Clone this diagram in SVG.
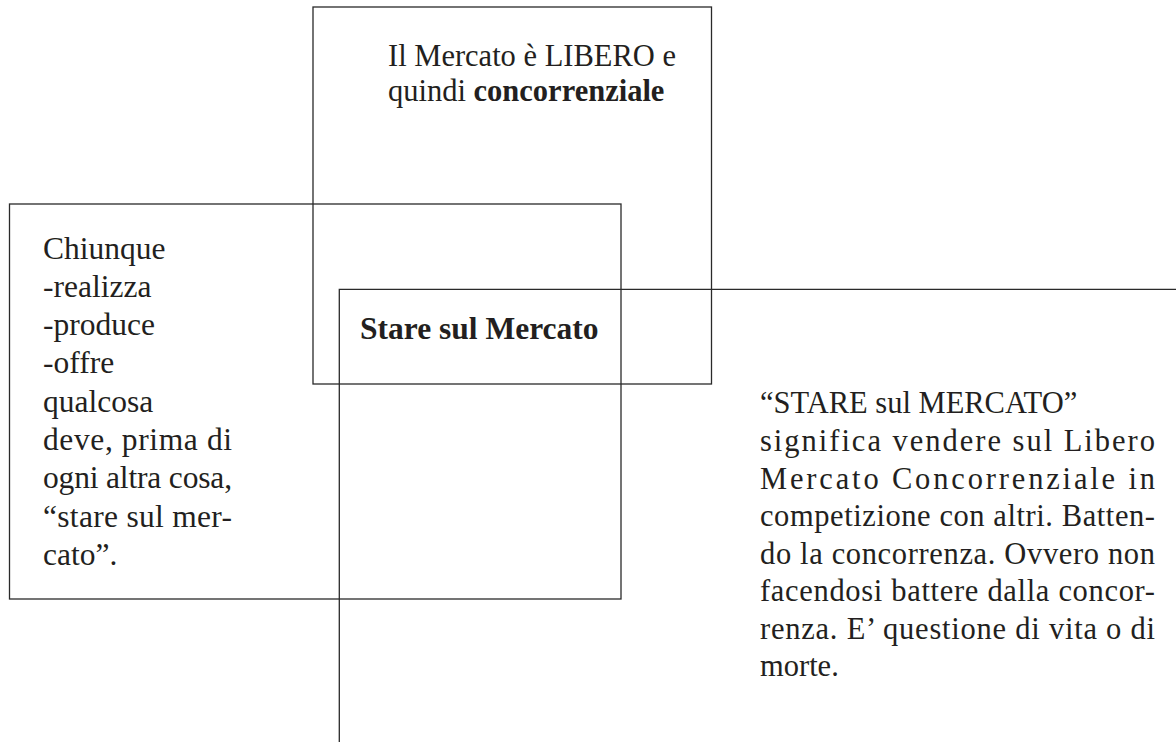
<svg xmlns="http://www.w3.org/2000/svg" width="1176" height="742" viewBox="0 0 1176 742">
<style>
.box{fill:none;stroke:#2a2a2a;stroke-width:1.3}
.t{font-family:"Liberation Serif","Times New Roman",serif;fill:#231f20}
.b{font-weight:bold}
</style>
<rect width="1176" height="742" fill="#ffffff"/>
<g id="node-mercato-libero">
<rect class="box" x="313" y="7" width="398.5" height="377"/>
<text class="t" font-size="30.5" x="388" y="66">Il Mercato è LIBERO e</text>
<text class="t" font-size="30.5" x="388" y="101">quindi <tspan class="b">concorrenziale</tspan></text>
</g>
<g id="node-chiunque">
<rect class="box" x="9.5" y="204" width="611.5" height="395"/>
<g class="t" font-size="31.5">
<text x="43" y="258.5">Chiunque</text>
<text x="43" y="296.8">-realizza</text>
<text x="43" y="335">-produce</text>
<text x="43" y="373">-offre</text>
<text x="43" y="411.5">qualcosa</text>
<text x="43" y="450" textLength="189" lengthAdjust="spacing">deve, prima di</text>
<text x="43" y="488.3" textLength="189" lengthAdjust="spacing">ogni altra cosa,</text>
<text x="43" y="526.7" textLength="189" lengthAdjust="spacing">“stare sul mer-</text>
<text x="43" y="565">cato”.</text>
</g>
</g>
<g id="node-stare">
<path class="box" d="M1176 289.3H339.3V742"/>
<text class="t b" font-size="31.5" x="360" y="338.5">Stare sul Mercato</text>
</g>
<g id="node-significato">
<g class="t" font-size="30.5">
<text x="760" y="413.3">“STARE sul MERCATO”</text>
<text x="760" y="451" textLength="395" lengthAdjust="spacing">significa vendere sul Libero</text>
<text x="760" y="488.5" textLength="395" lengthAdjust="spacing">Mercato Concorrenziale in</text>
<text x="760" y="526" textLength="395" lengthAdjust="spacing">competizione con altri. Batten-</text>
<text x="760" y="563.5" textLength="395" lengthAdjust="spacing">do la concorrenza. Ovvero non</text>
<text x="760" y="601" textLength="395" lengthAdjust="spacing">facendosi battere dalla concor-</text>
<text x="760" y="638.5" textLength="395" lengthAdjust="spacing">renza. E’ questione di vita o di</text>
<text x="760" y="676">morte.</text>
</g>
</g>
<g id="connectors"></g>
</svg>
